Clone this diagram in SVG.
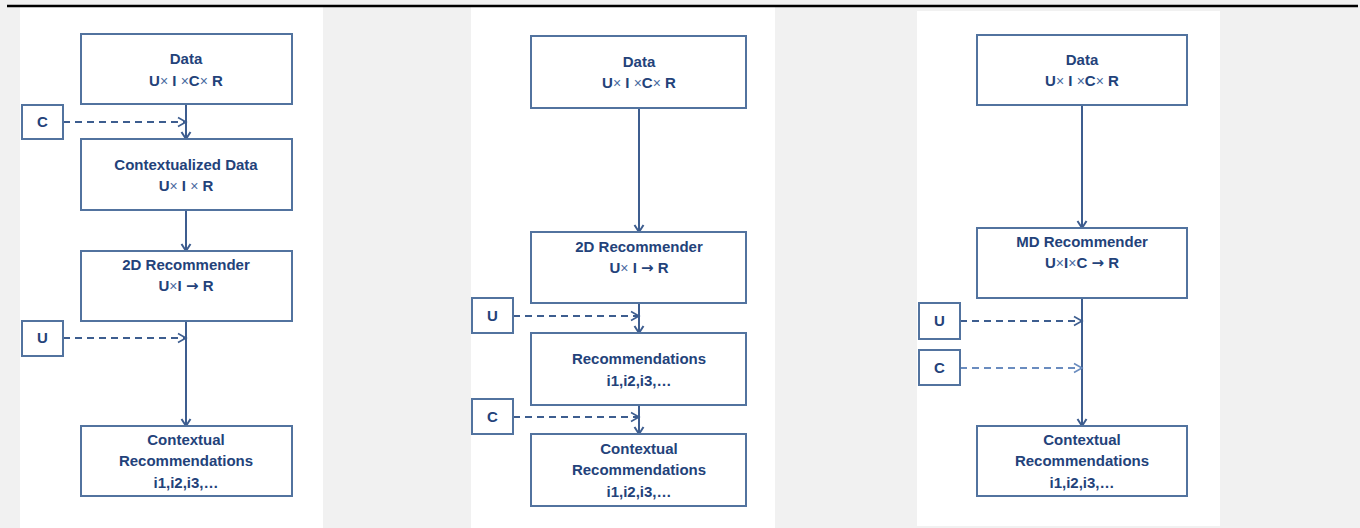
<svg xmlns="http://www.w3.org/2000/svg" width="1360" height="528" viewBox="0 0 1360 528">
<style>
.bg{fill:#f1f1f1}
.panel{fill:#ffffff}
.box{fill:#ffffff;stroke:#52739f;stroke-width:2}
.t{font-family:"Liberation Sans",Arial,sans-serif;font-weight:bold;font-size:15px;fill:#23427a;text-anchor:middle}
.x{font-weight:normal;font-size:14px;fill:#4a6aa0}
.a{font-family:"DejaVu Sans",sans-serif;font-size:15px}
.solid{fill:none;stroke:#3d5d8f;stroke-width:2;marker-end:url(#arr)}
.dash{fill:none;stroke:#3d5d8f;stroke-width:2;stroke-dasharray:7 5;marker-end:url(#arrd)}
.dashl{fill:none;stroke:#6a8cbf;stroke-width:2;stroke-dasharray:7 5;marker-end:url(#arrl)}
</style>
<defs>
<marker id="arr" markerUnits="userSpaceOnUse" markerWidth="12" markerHeight="12" refX="9" refY="6" orient="auto"><path d="M2,1.5 L9,6 L2,10.5" fill="none" stroke="#3d5d8f" stroke-width="2"/></marker>
<marker id="arrd" markerUnits="userSpaceOnUse" markerWidth="12" markerHeight="12" refX="10" refY="6" orient="auto"><path d="M2,1.5 L10,6 L2,10.5" fill="none" stroke="#3d5d8f" stroke-width="1.6"/></marker>
<marker id="arrl" markerUnits="userSpaceOnUse" markerWidth="12" markerHeight="12" refX="10" refY="6" orient="auto"><path d="M2,1.5 L10,6 L2,10.5" fill="none" stroke="#6a8cbf" stroke-width="1.6"/></marker>
</defs>
<rect class="bg" x="0" y="0" width="1360" height="528"/>
<rect class="panel" x="20" y="7" width="303" height="521"/>
<rect class="panel" x="471" y="7" width="304" height="521"/>
<rect class="panel" x="917" y="11" width="303" height="515"/>
<line x1="7" y1="6" x2="1358" y2="6" stroke="#000" stroke-width="2.5"/>

<g id="connectors">
<path class="solid" d="M186,104 V139"/>
<path class="solid" d="M186,210 V251"/>
<path class="solid" d="M186,321 V426"/>
<path class="dash" d="M63,122 H186"/>
<path class="dash" d="M63,338 H186"/>
<path class="solid" d="M639,108 V232"/>
<path class="solid" d="M639,303 V333"/>
<path class="solid" d="M639,405 V434"/>
<path class="dash" d="M513,316 H639"/>
<path class="dash" d="M513,417 H639"/>
<path class="solid" d="M1082,105 V228"/>
<path class="solid" d="M1082,298 V426"/>
<path class="dash" d="M960,321 H1082"/>
<path class="dashl" d="M960,368 H1082"/>
</g>

<g id="l-data"><rect class="box" x="81" y="34" width="211" height="70"/><text class="t" x="186" y="64">Data</text><text class="t" x="186" y="86">U<tspan class="x">×</tspan> I <tspan class="x">×</tspan>C<tspan class="x">×</tspan> R</text></g>
<g id="l-c"><rect class="box" x="22" y="105" width="41" height="34"/><text class="t" x="42.5" y="127">C</text></g>
<g id="l-ctxdata"><rect class="box" x="81" y="139" width="211" height="71"/><text class="t" x="186" y="170">Contextualized Data</text><text class="t" x="186" y="191">U<tspan class="x">×</tspan> I <tspan class="x">×</tspan> R</text></g>
<g id="l-2d"><rect class="box" x="81" y="251" width="211" height="70"/><text class="t" x="186" y="270">2D Recommender</text><text class="t" x="186" y="291">U<tspan class="x">×</tspan>I <tspan class="a">→</tspan> R</text></g>
<g id="l-u"><rect class="box" x="22" y="321" width="41" height="35"/><text class="t" x="42.5" y="343">U</text></g>
<g id="l-ctxrec"><rect class="box" x="81" y="426" width="211" height="70"/><text class="t" x="186" y="445">Contextual</text><text class="t" x="186" y="466">Recommendations</text><text class="t" x="186" y="488">i1,i2,i3,…</text></g>

<g id="m-data"><rect class="box" x="531" y="36" width="215" height="72"/><text class="t" x="639" y="67">Data</text><text class="t" x="639" y="88">U<tspan class="x">×</tspan> I <tspan class="x">×</tspan>C<tspan class="x">×</tspan> R</text></g>
<g id="m-2d"><rect class="box" x="531" y="232" width="215" height="71"/><text class="t" x="639" y="252">2D Recommender</text><text class="t" x="639" y="273">U<tspan class="x">×</tspan> I <tspan class="a">→</tspan> R</text></g>
<g id="m-u"><rect class="box" x="472" y="298" width="41" height="35"/><text class="t" x="492.5" y="321">U</text></g>
<g id="m-rec"><rect class="box" x="531" y="333" width="215" height="72"/><text class="t" x="639" y="364">Recommendations</text><text class="t" x="639" y="386">i1,i2,i3,…</text></g>
<g id="m-c"><rect class="box" x="472" y="399" width="41" height="35"/><text class="t" x="492.5" y="422">C</text></g>
<g id="m-ctxrec"><rect class="box" x="531" y="434" width="215" height="72"/><text class="t" x="639" y="454">Contextual</text><text class="t" x="639" y="475">Recommendations</text><text class="t" x="639" y="497">i1,i2,i3,…</text></g>

<g id="r-data"><rect class="box" x="977" y="35" width="210" height="70"/><text class="t" x="1082" y="65">Data</text><text class="t" x="1082" y="86">U<tspan class="x">×</tspan> I <tspan class="x">×</tspan>C<tspan class="x">×</tspan> R</text></g>
<g id="r-md"><rect class="box" x="977" y="228" width="210" height="70"/><text class="t" x="1082" y="247">MD Recommender</text><text class="t" x="1082" y="268">U<tspan class="x">×</tspan>I<tspan class="x">×</tspan>C <tspan class="a">→</tspan> R</text></g>
<g id="r-u"><rect class="box" x="919" y="303" width="41" height="36"/><text class="t" x="939.5" y="326">U</text></g>
<g id="r-c"><rect class="box" x="919" y="350" width="41" height="35"/><text class="t" x="939.5" y="373">C</text></g>
<g id="r-ctxrec"><rect class="box" x="977" y="426" width="210" height="70"/><text class="t" x="1082" y="445">Contextual</text><text class="t" x="1082" y="466">Recommendations</text><text class="t" x="1082" y="488">i1,i2,i3,…</text></g>
</svg>
